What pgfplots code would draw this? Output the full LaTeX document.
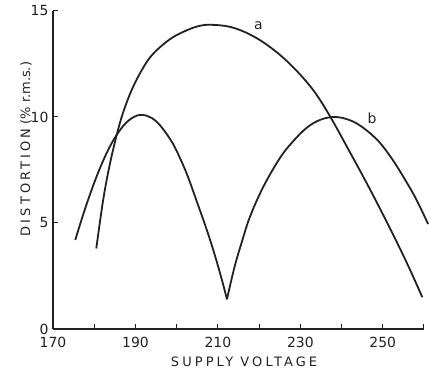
\documentclass[border=0pt]{standalone}
\usepackage{fontspec}
\setmainfont{DejaVu Sans}
\newfontfamily\lsfont[LetterSpace=24]{DejaVu Sans}
\usepackage{pgfplots}
\pgfplotsset{compat=1.18}
\definecolor{ink}{HTML}{222222}
\begin{document}
\begin{tikzpicture}
\path[use as bounding box] (-53bp,-41bp) rectangle (376bp,329bp);
\begin{axis}[
  scale only axis, width=371bp, height=318bp,
  xmin=170, xmax=260, ymin=0, ymax=15,
  axis lines=left, axis line style={-, ink, line width=1.1bp},
  tick align=inside, tick style={ink, line width=1bp},
  major tick length=4.5bp, minor tick length=4.5bp,
  xtick={170,190,...,250}, minor xtick={180,200,...,260},
  ytick={0,5,10,15},
  tick label style={font=\fontsize{14}{16}\selectfont, text=ink},
  xticklabel style={yshift=-5bp},
  yticklabel style={xshift=-1bp},
  /pgf/number format/assume math mode=true,
  /pgf/number format/set thousands separator={},
  xlabel={{\lsfont SUPPLY VOLTAGE}},
  ylabel={{\lsfont DISTORTION} (\% r.m.s.)},
  label style={font=\fontsize{13}{15}\selectfont, text=ink},
  xlabel style={at={(axis description cs:0.515,-0.104)}, anchor=center},
  ylabel style={at={(axis description cs:-0.0728,0.566)}, anchor=center},
  clip=false,
]
\addplot[ink, line width=1.8bp, smooth, tension=0.6] coordinates {
(180.5,3.8)(182.1,6.0)(183.5,7.5)(185,8.8)(186.5,9.9)(188,10.75)(189.5,11.45)(191.5,12.2)(193.5,12.8)(196,13.3)(199,13.75)(202,14.05)(205,14.27)(208,14.35)(213,14.25)(218,13.87)(223,13.25)(228,12.4)(233,11.3)(237,10.1)(242,8.35)(247,6.55)(252,4.65)(256,3.05)(259.6,1.5)
};
\addplot[ink, line width=1.8bp, smooth, tension=0.6] coordinates {
(175.4,4.2)(178,5.8)(181,7.4)(184,8.68)(187,9.57)(189.5,9.99)(191.6,10.1)(194,9.95)(196,9.6)(198.4,8.96)(200,8.4)(202.5,7.3)(205,5.95)(207,4.85)(209,3.65)(211,2.3)(212.2,1.4)
};
\addplot[ink, line width=1.8bp, smooth, tension=0.6] coordinates {
(212.2,1.4)(214,2.9)(215.8,4.1)(217.8,5.3)(221,6.7)(225,8.05)(228,8.8)(231.6,9.5)(235,9.88)(238.5,10.0)(242,9.85)(245.2,9.5)(249,8.85)(252.5,7.95)(256,6.85)(258.3,6.05)(261,4.95)
};
\node[font=\fontsize{14}{16}\selectfont, text=ink] at (axis cs:219.8,14.3) {a};
\node[font=\fontsize{14}{16}\selectfont, text=ink] at (axis cs:247.4,9.95) {b};
\end{axis}
\end{tikzpicture}
\end{document}
